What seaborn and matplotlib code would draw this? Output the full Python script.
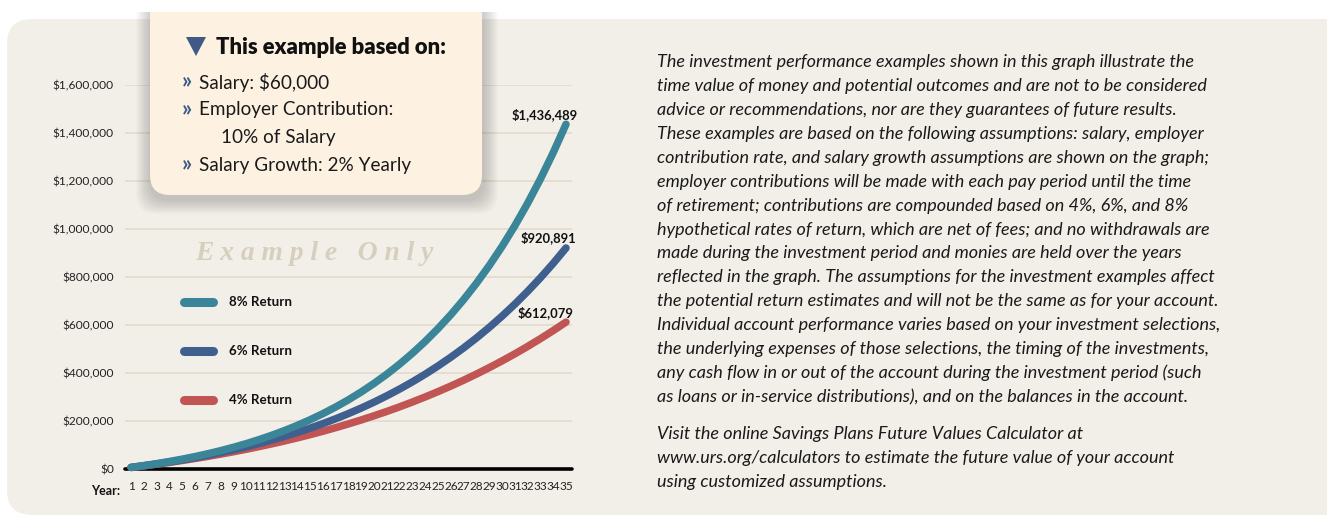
import pandas as pd
import matplotlib.pyplot as plt
import seaborn as sns
from matplotlib.patches import FancyBboxPatch, Rectangle, Polygon

# valores (saldo acumulado por ano)
years = list(range(1, 36))
return_8 = [6742, 14157, 22306, 31247, 41035, 51763, 63494, 76315, 90325, 105606,
            122270, 140450, 160220, 181760, 205200, 230680, 258400, 288510, 321220, 356740,
            395280, 437130, 482530, 531760, 585150, 643020, 705740, 773700, 847340, 927090,
            1013480, 1107010, 1208270, 1317880, 1436489]
return_6 = [6478, 13474, 21021, 29167, 37913, 47338, 57476, 68359, 80068, 92603,
            106060, 120490, 135925, 152460, 170160, 189090, 209340, 230960, 254070, 278750,
            305100, 333210, 363220, 395240, 429380, 465770, 504540, 545890, 589920, 636800,
            686750, 739930, 796540, 856770, 920891]
return_4 = [6290, 12957, 20034, 27519, 35413, 43747, 52584, 61925, 71769, 82147,
            93123, 104666, 116837, 129637, 143098, 157313, 172252, 187945, 204425, 221785,
            239995, 259117, 279213, 300316, 322425, 345667, 370009, 395547, 422342, 450364,
            479770, 510622, 542890, 576667, 612079]
series_names = ['4% Return', '6% Return', '8% Return']
y_ticks = [0, 200000, 400000, 600000, 800000, 1000000, 1200000, 1400000, 1600000]
assumptions = ['Salary: $60,000', 'Employer Contribution:', '10% of Salary', 'Salary Growth: 2% Yearly']

colors = {'8% Return': '#3b8599', '6% Return': '#3f5f8f', '4% Return': '#c05553'}
W, H = 1327, 521

df = pd.DataFrame({
    'Year': years * 3,
    'Value': return_4 + return_6 + return_8,
    'Series': [series_names[0]] * 35 + [series_names[1]] * 35 + [series_names[2]] * 35,
})

sns.set_theme(style='white')
sans = ['Lato', 'DejaVu Sans']
plt.rcParams['font.family'] = sans

fig = plt.figure(figsize=(W / 100, H / 100), dpi=100, facecolor='white')

# fundo (coordenadas em pixels)
bg = fig.add_axes([0, 0, 1, 1], zorder=0)
bg.set_xlim(0, W)
bg.set_ylim(H, 0)
bg.axis('off')
bg.add_patch(FancyBboxPatch((7 + 25, 19 + 25), W + 40, 496 - 50,
                            boxstyle='round,pad=25', fc='#f2efe9', ec='none'))

# grafico principal
ax = fig.add_axes([125 / W, 52 / H, 447 / W, 384 / H], zorder=1)
ax.patch.set_alpha(0)
sns.lineplot(data=df, x='Year', y='Value', hue='Series', hue_order=series_names,
             palette=colors, linewidth=5.4, legend=False, ax=ax, zorder=3)
for ln in ax.lines:
    ln.set_solid_capstyle('round')
    ln.set_clip_on(False)
ax.set_xlim(0.53, 35.47)
ax.set_ylim(0, 1600000)
ax.set_yticks(y_ticks)
ax.set_yticklabels([f'${v:,.0f}' for v in y_ticks], fontsize=8.6, color='#222222')
ax.set_xticks(years)
ax.set_xticklabels([str(y) for y in years], fontsize=8.5, color='#222222')
ax.tick_params(axis='y', length=0, pad=8)
ax.tick_params(axis='x', length=0, pad=9)
ax.grid(axis='y', color='#e5dccf', linewidth=1.3)
ax.grid(axis='x', visible=False)
ax.axhline(0, color='black', linewidth=2.6, zorder=2, clip_on=False)
for s in ax.spines.values():
    s.set_visible(False)
ax.set_xlabel('')
ax.set_ylabel('')

# rotulos dos valores finais
for vals, off in [(return_8, (-21, 10)), (return_6, (-18, 10)), (return_4, (-20, 9))]:
    ax.annotate(f'${vals[-1]:,}', xy=(years[-1], vals[-1]), xytext=off,
                textcoords='offset pixels', ha='center', va='center',
                fontsize=9.4, fontweight='bold', color='#111111')

# camada de cima: caixa, legenda, textos
top = fig.add_axes([0, 0, 1, 1], zorder=2)
top.set_xlim(0, W)
top.set_ylim(H, 0)
top.axis('off')
top.patch.set_alpha(0)

for i in range(8):
    p = 2 + i * 1.8
    top.add_patch(FancyBboxPatch((150 + 20 - p + 1, -40 + 20 - p + 4), 332 - 40 + 2 * p, 235 - 40 + 2 * p,
                                 boxstyle='round,pad=20', fc='black', ec='none', alpha=0.022))
top.add_patch(FancyBboxPatch((150 + 20, -40 + 20), 332 - 40, 235 - 40,
                             boxstyle='round,pad=20', fc='#fdf2e1', ec='none'))
top.add_patch(Rectangle((100, -5), 420, 17, fc='white', ec='none'))

top.add_patch(Polygon([(186, 37), (206, 37), (196, 56)], closed=True, fc='#3f5a85', ec='none'))
top.text(216, 47, 'This example based on:', fontsize=15.8, fontweight='heavy',
         va='center', ha='left', color='#111111')
rows = [(82, True, 199), (110, True, 199), (137, False, 221), (165, True, 199)]
for (yy, arrow, xx), label in zip(rows, assumptions):
    if arrow:
        top.text(182, yy, '»', fontsize=16, fontweight='bold', color='#3f5a85',
                 va='center', ha='left')
    top.text(xx, yy, label, fontsize=13.6, va='center', ha='left', color='#1a1a1a')

top.text(314, 254, 'E x a m p l e   O n l y', fontsize=19.8, fontweight='bold', fontstyle='italic',
         family=['Liberation Serif', 'DejaVu Serif'], color='#d7cfbe', ha='center', va='center')

for yy, name in zip([302, 351, 400], ['8% Return', '6% Return', '4% Return']):
    top.plot([184, 213], [yy, yy], color=colors[name], linewidth=6.5, solid_capstyle='round')
    top.text(229, yy, name, fontsize=9.6, fontweight='bold', va='center', ha='left', color='#111111')

top.text(106, 491, 'Year:', fontsize=9, fontweight='bold', va='center', ha='center', color='#111111')

body = [
    'The investment performance examples shown in this graph illustrate the',
    'time value of money and potential outcomes and are not to be considered',
    'advice or recommendations, nor are they guarantees of future results.',
    'These examples are based on the following assumptions: salary, employer',
    'contribution rate, and salary growth assumptions are shown on the graph;',
    'employer contributions will be made with each pay period until the time',
    'of retirement; contributions are compounded based on 4%, 6%, and 8%',
    'hypothetical rates of return, which are net of fees; and no withdrawals are',
    'made during the investment period and monies are held over the years',
    'reflected in the graph. The assumptions for the investment examples affect',
    'the potential return estimates and will not be the same as for your account.',
    'Individual account performance varies based on your investment selections,',
    'the underlying expenses of those selections, the timing of the investments,',
    'any cash flow in or out of the account during the investment period (such',
    'as loans or in-service distributions), and on the balances in the account.',
]
visit = [
    'Visit the online Savings Plans Future Values Calculator at',
    'www.urs.org/calculators to estimate the future value of your account',
    'using customized assumptions.',
]

# ajusta o tamanho da fonte para a primeira linha ter ~535 px de largura
probe = top.text(657, 62, body[0], fontsize=12, fontstyle='italic')
fig.canvas.draw()
w = probe.get_window_extent().width
probe.remove()
body_size = 12 * 535 / w

for i, line in enumerate(body):
    top.text(657, 62 + i * 23.93, line, fontsize=body_size, fontstyle='italic',
             va='center', ha='left', color='#1a1a1a')
for i, line in enumerate(visit):
    top.text(657, 434 + i * 24, line, fontsize=body_size, fontstyle='italic',
             va='center', ha='left', color='#1a1a1a')

plt.savefig('out.png', dpi=100, facecolor='white')
plt.close()
